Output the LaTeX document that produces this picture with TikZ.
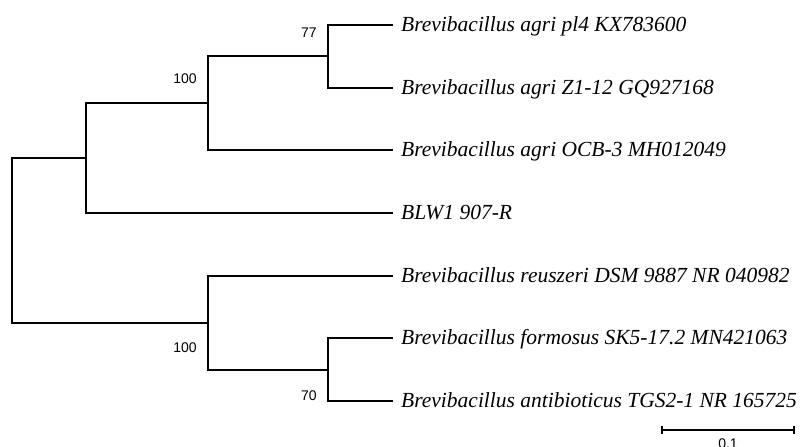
\documentclass[tikz,border=0pt]{standalone}
\usepackage{fontspec}
\setmainfont{Liberation Serif}
\newfontfamily\supportfont{Liberation Sans}
\begin{document}
\begin{tikzpicture}[x=1pt,y=-1pt,
  branch/.style={line width=2pt,line join=miter},
  taxon/.style={anchor=west,inner xsep=8pt,inner ysep=0pt,
    text height=15pt,text depth=3pt,
    font=\fontsize{21.5}{24}\selectfont\itshape},
  support/.style={inner sep=0pt,font=\supportfont\fontsize{14}{16}\selectfont}]
\useasboundingbox (0,0) rectangle (804,447);

% leaf tips
\node[taxon] (t1) at (393,25)  {Brevibacillus agri pl4 KX783600};
\node[taxon] (t2) at (393,88)  {Brevibacillus agri Z1-12 GQ927168};
\node[taxon] (t3) at (393,150) {Brevibacillus agri OCB-3 MH012049};
\node[taxon] (t4) at (393,213) {BLW1 907-R};
\node[taxon] (t5) at (393,276) {Brevibacillus reuszeri DSM 9887 NR 040982};
\node[taxon] (t6) at (393,338) {Brevibacillus formosus SK5-17.2 MN421063};
\node[taxon] (t7) at (393,401) {Brevibacillus antibioticus TGS2-1 NR 165725};

% internal nodes
\coordinate (root) at (12,240);
\coordinate (A) at (86,158);
\coordinate (B) at (208,103);
\coordinate (C) at (328,56);
\coordinate (D) at (208,323);
\coordinate (E) at (328,370);

% branches
\draw[branch] (root) |- (A);
\draw[branch] (root) |- (D);
\draw[branch] (A) |- (B);
\draw[branch] (A) |- (t4.west);
\draw[branch] (B) |- (C);
\draw[branch] (B) |- (t3.west);
\draw[branch] (C) |- (t1.west);
\draw[branch] (C) |- (t2.west);
\draw[branch] (D) |- (t5.west);
\draw[branch] (D) |- (E);
\draw[branch] (E) |- (t6.west);
\draw[branch] (E) |- (t7.west);

% bootstrap values
\node[support] (s77)   at (309,33)  {77};
\node[support] (s100a) at (185,79)  {100};
\node[support] (s100b) at (185,348) {100};
\node[support] (s70)   at (309,396) {70};

% scale bar
\coordinate (sb1) at (662,430);
\coordinate (sb2) at (794,430);
\draw[branch] (sb1) -- (sb2);
\draw[branch] ([yshift=-4pt]sb1) -- ([yshift=4pt]sb1);
\draw[branch] ([yshift=-4pt]sb2) -- ([yshift=4pt]sb2);
\node[support,anchor=north] (sblabel) at (728,439) {0.1};
\end{tikzpicture}
\end{document}
